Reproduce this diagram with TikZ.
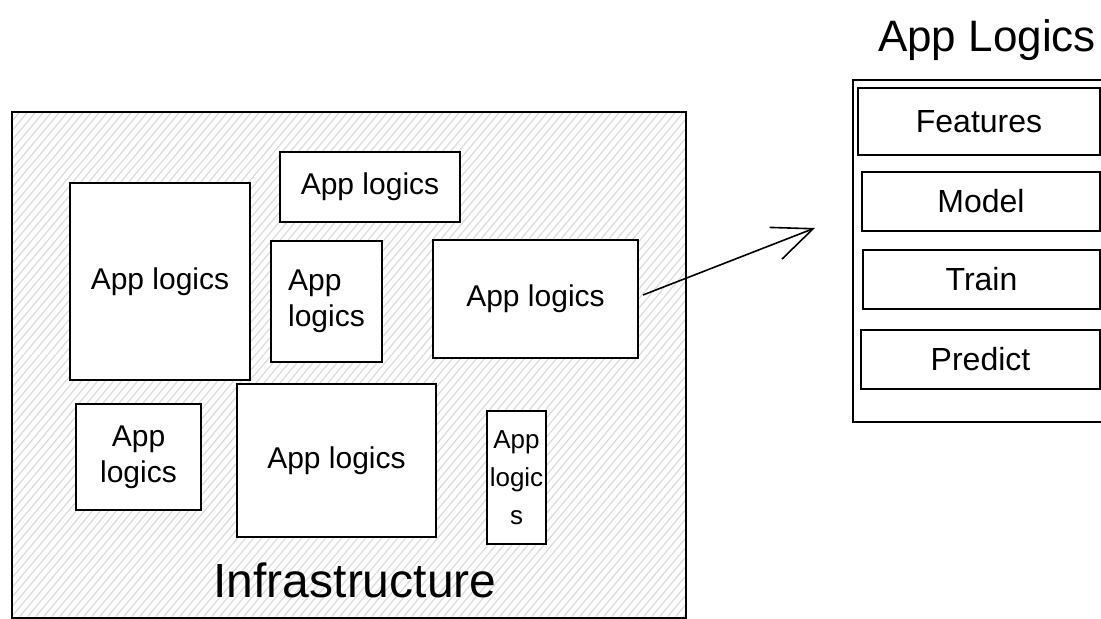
\documentclass[tikz,border=0pt]{standalone}
\usepackage{fontspec}
\setmainfont{Liberation Sans}
\usetikzlibrary{arrows.meta}

\tikzset{
  box/.style={draw, line width=1pt, inner sep=0pt},
  logic/.style={box, fill=white, align=center, font=\fontsize{15}{18}\selectfont},
  part/.style={box, fill=white, font=\fontsize{16}{19}\selectfont},
  hatch/.style={gray!28, line width=0.6pt},
}

\begin{document}
\begin{tikzpicture}[x=0.5pt,y=-0.5pt]
    \useasboundingbox (0,0) rectangle (1101,619);

    % infrastructure, hatched
    \begin{scope}
      \clip (12,112) rectangle (686,618);
      \foreach \i in {-440,-432,...,688}
        \draw[hatch] (\i,640) -- ++(500,-595);
    \end{scope}
    \node[box, minimum width=337pt, minimum height=253pt] (infra) at (349,365) {};
    \node[font=\fontsize{24}{28}\selectfont] (infraname) at (355,580) {Infrastructure};

    % app logics inside
    \node[logic, minimum width=90pt, minimum height=98.5pt] (logicA) at (160,281.5) {App logics};
    \node[logic, minimum width=90pt, minimum height=35pt] (logicB) at (370,187) {App logics};
    \node[logic, align=left, minimum width=55.5pt, minimum height=60.5pt] (logicC) at (326.5,301.5) {App\\logics};
    \node[logic, minimum width=102.5pt, minimum height=59pt] (logicD) at (535.5,299) {App logics};
    \node[logic, minimum width=62.5pt, minimum height=53pt] (logicE) at (138.5,457) {App\\logics};
    \node[logic, minimum width=99.5pt, minimum height=76.5pt] (logicF) at (336.5,460.5) {App logics};
    \node[logic, font=\fontsize{13}{19}\selectfont, minimum width=29.5pt, minimum height=66.5pt] (logicG) at (516.5,477.5) {App\\logic\\s};

    % one app logic, opened up
    \node[font=\fontsize{22}{26}\selectfont] (apptitle) at (987,40) {App Logics};
    \node[box, minimum width=129.5pt, minimum height=171pt] (app) at (982.5,251) {};
    \node[part, minimum width=121pt, minimum height=33.5pt] (features) at (979,121.5) {Features};
    \node[part, minimum width=119pt, minimum height=29.5pt] (model) at (981,201.5) {Model};
    \node[part, minimum width=118.5pt, minimum height=29.5pt] (train) at (981.5,279.5) {Train};
    \node[part, minimum width=119.5pt, minimum height=29.5pt] (predict) at (980.5,359.5) {Predict};

    \coordinate (tip) at (815,228);
    \draw[line width=0.8pt, -{Straight Barb[length=20pt,width=17pt]}] ([xshift=2pt,yshift=2pt]logicD.east) -- (tip);
\end{tikzpicture}
\end{document}
